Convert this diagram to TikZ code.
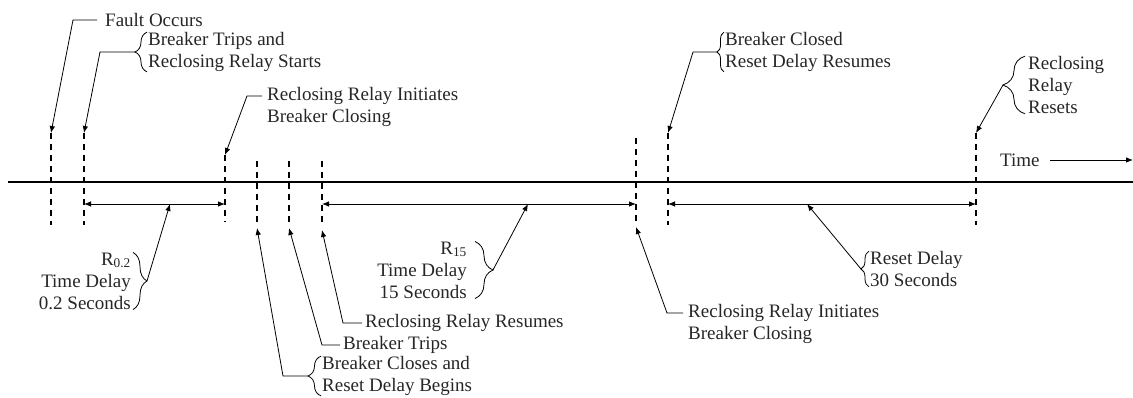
\documentclass[tikz,border=0pt]{standalone}
\usepackage{fontspec}
\setmainfont{Liberation Serif}
\usetikzlibrary{arrows.meta,decorations.pathreplacing}

\begin{document}
\begin{tikzpicture}[x=1pt, y=-1pt,
		lbl/.style={inner sep=0pt, align=left, text=black!85, font=\fontsize{19}{22}\selectfont},
		tick/.style={line width=1.6pt, dash pattern=on 6pt off 5pt},
		ptr/.style={line width=0.8pt, -{Latex[length=7pt,width=5.5pt]}},
		dim/.style={line width=0.8pt, {Latex[length=7pt,width=5.5pt]}-{Latex[length=7pt,width=5.5pt]}},
		brc/.style={line width=0.8pt, decorate, decoration={brace, amplitude=#1}}]
		\useasboundingbox (0,0) rectangle (1133,398);
		% time axis
		\draw[line width=2.7pt] (8,182) -- (1133,182);
		\foreach \n/\x/\t/\b in {fa/51/133/225, tr/84/133/225, ic/225/155/222, cl/257/161/223, bt/289/161/223, rr/322/161/225, icb/636/138/223, bc/668/133/225, rs/976/133/225} {
			\coordinate (\n-top) at (\x,\t);
			\coordinate (\n-bot) at (\x,\b);
			\draw[tick] (\n-top) -- (\n-bot);
		}
		\coordinate (dimy) at (0,204);
		\draw[dim] (tr-bot |- dimy) -- (ic-bot |- dimy);
		\draw[dim] (rr-bot |- dimy) -- (icb-bot |- dimy);
		\draw[dim] (bc-bot |- dimy) -- (rs-bot |- dimy);
		\coordinate (m1) at (170,204);
		\coordinate (m2) at (528,204);
		\coordinate (m3) at (807,204);
		% labels above
		\node[lbl, anchor=west] (fault) at (105,20) {Fault Occurs};
		\node[lbl, anchor=west] (trips) at (148,52) {Breaker Trips and\\Reclosing Relay Starts};
		\node[lbl, anchor=west] (init1) at (267,107) {Reclosing Relay Initiates\\Breaker Closing};
		\node[lbl, anchor=west] (closed) at (725,52) {Breaker Closed\\Reset Delay Resumes};
		\node[lbl, anchor=west] (resets) at (1028,85) {Reclosing\\Relay\\Resets};
		\node[lbl, anchor=west] (time) at (1000,160) {Time};
		\coordinate (tend) at (1133,160);
		% labels below
		\node[lbl, anchor=east, align=right] (r02) at (131,281) {R\textsubscript{0.2}\\Time Delay\\0.2 Seconds};
		\node[lbl, anchor=east, align=right] (r15) at (467,270) {R\textsubscript{15}\\Time Delay\\15 Seconds};
		\node[lbl, anchor=west] (resumes) at (365,323) {Reclosing Relay Resumes};
		\node[lbl, anchor=west] (trips2) at (343,345) {Breaker Trips};
		\node[lbl, anchor=west] (closes) at (322,376) {Breaker Closes and\\Reset Delay Begins};
		\node[lbl, anchor=west] (init2) at (688,324) {Reclosing Relay Initiates\\Breaker Closing};
		\node[lbl, anchor=west] (reset) at (870,269) {Reset Delay\\30 Seconds};
		% braces
		\draw[brc=12pt] ([xshift=-1pt]trips.south west) -- ([xshift=-1pt]trips.north west);
		\draw[brc=7pt] ([xshift=-1pt]closed.south west) -- ([xshift=-1pt]closed.north west);
		\draw[brc=22pt] ([xshift=-3pt]resets.south west) -- ([xshift=-3pt]resets.north west);
		\draw[brc=14pt] ([xshift=2pt]r02.north east) -- ([xshift=2pt]r02.south east);
		\draw[brc=18pt] ([xshift=8pt]r15.north east) -- ([xshift=8pt]r15.south east);
		\draw[brc=13pt] ([xshift=-1pt]closes.south west) -- ([xshift=-1pt]closes.north west);
		\draw[brc=8pt] ([xshift=-1pt]reset.south west) -- ([xshift=-1pt]reset.north west);
		% pointers
		\draw[ptr] ([xshift=-8pt]fault.west) -- ++(-24,0) -- (fa-top);
		\draw[ptr] ([xshift=-13pt]trips.west) -- ++(-35,0) -- (tr-top);
		\draw[ptr] ([xshift=-5pt,yshift=11pt]init1.west) -- ++(-15,0) -- (ic-top);
		\draw[ptr] ([xshift=-8pt]closed.west) -- ++(-24,0) -- (bc-top);
		\draw[ptr] ([xshift=-25pt]resets.west) -- (rs-top);
		\draw[ptr] ([xshift=10pt]time.east) -- (tend);
		\draw[ptr] ([xshift=16pt]r02.east) -- (m1);
		\draw[ptr] ([xshift=26pt]r15.east) -- (m2);
		\draw[ptr] ([xshift=-9pt]reset.west) -- (m3);
		\draw[ptr] ([xshift=-3pt]resumes.west) -- ++(-19,0) -- ([yshift=-5pt]rr-bot);
		\draw[ptr] ([xshift=-3pt]trips2.west) -- ++(-18,0) -- ([yshift=-5pt]bt-bot);
		\draw[ptr] ([xshift=-14pt]closes.west) -- ++(-25,0) -- ([yshift=-5pt]cl-bot);
		\draw[ptr] ([xshift=-5pt,yshift=11pt]init2.west) -- ++(-16,0) -- ([yshift=-4pt]icb-bot);
\end{tikzpicture}
\end{document}
